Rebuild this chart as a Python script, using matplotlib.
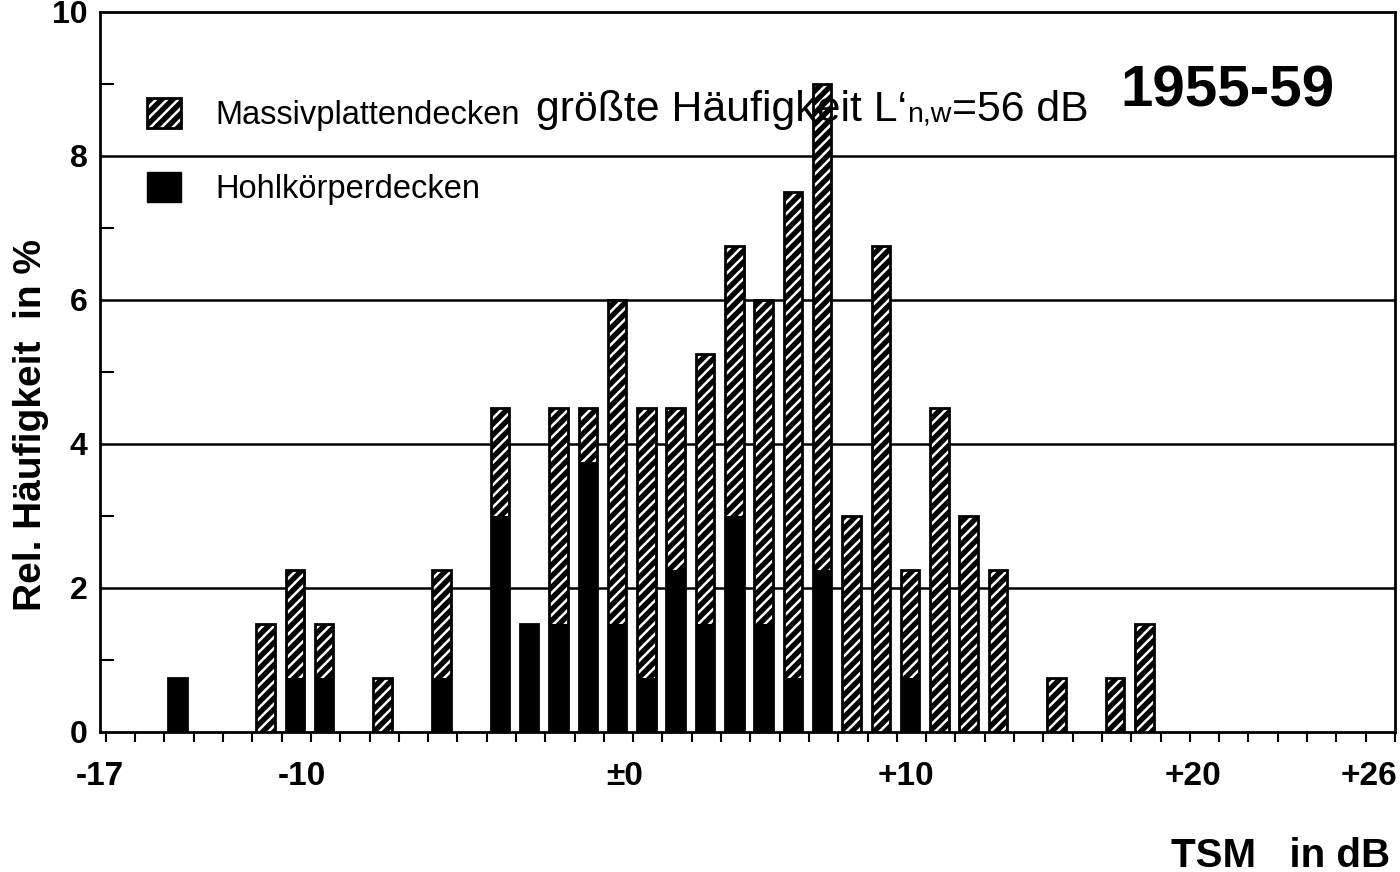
import numpy as np
import matplotlib.pyplot as plt
from matplotlib.patches import Patch
from matplotlib.legend_handler import HandlerTuple
from matplotlib.offsetbox import TextArea, HPacker, AnchoredOffsetbox

plt.rcParams['font.family'] = ['Liberation Sans', 'DejaVu Sans']
plt.rcParams['hatch.linewidth'] = 1.8

# TSM class (lower edge in dB) and relative frequency in %
tsm = [-15, -12, -11, -10, -8, -6, -4, -3, -2, -1, 0, 1, 2, 3, 4, 5, 6,
       7, 8, 9, 10, 11, 12, 13, 15, 17, 18]
hohl = [0.75, 0, 0.75, 0.75, 0, 0.75, 3.0, 1.5, 1.5, 3.75, 1.5, 0.75, 2.25,
        1.5, 3.0, 1.5, 0.75, 2.25, 0, 0, 0.75, 0, 0, 0, 0, 0, 0]
massiv = [0, 1.5, 1.5, 0.75, 0.75, 1.5, 1.5, 0, 3.0, 0.75, 4.5, 3.75, 2.25,
          3.75, 3.75, 4.5, 6.75, 6.75, 3.0, 6.75, 1.5, 4.5, 3.0, 2.25, 0.75,
          0.75, 1.5]

# x labels as printed on the original
xlabels = ['-17', '-10', '±0', '+10', '+20', '+26']
xlabel_pos = [-17.2, -10.3, 0.7, 10.3, 20.1, 26.1]

fig = plt.figure(figsize=(14, 8.72), dpi=100)
ax = fig.add_axes([0.0714, 0.1606, 0.925, 0.8257])

x = np.array(tsm) + 0.45
total = np.add(hohl, massiv)
w = 0.63
ax.bar(x, hohl, w, color='black', linewidth=0, zorder=3)
ax.bar(x, massiv, w, bottom=hohl, color='black', edgecolor='white',
       hatch='///', linewidth=0, zorder=3)
ax.bar(x, total, w, fill=False, edgecolor='black', linewidth=2, zorder=4)

for yy in [2, 4, 6, 8]:
    ax.axhline(yy, color='black', linewidth=1.8, zorder=1)

for s in ax.spines.values():
    s.set_linewidth(2)

ax.set_xlim(-17, 27)
ax.set_ylim(0, 10)
ax.set_xticks(np.arange(-17, 28), minor=True)
ax.set_xticks(xlabel_pos, xlabels)
ax.set_yticks([0, 2, 4, 6, 8, 10])
ax.set_yticks([1, 3, 5, 7, 9], minor=True)
ax.tick_params(axis='x', which='major', length=0, pad=21, labelsize=24)
ax.tick_params(axis='x', which='minor', length=7, width=1.5, direction='out')
ax.tick_params(axis='y', which='major', length=0, pad=9, labelsize=23)
ax.tick_params(axis='y', which='minor', length=10, width=1.5, direction='in')
for t in ax.get_xticklabels() + ax.get_yticklabels():
    t.set_fontweight('bold')

fig.text(0.022, 0.513, 'Rel. Häufigkeit  in %', rotation=90, ha='center',
         va='center', fontsize=28, fontweight='bold')
fig.text(0.993, 0.006, 'TSM   in dB', ha='right', va='baseline', fontsize=29,
         fontweight='bold')

ax.text(0.871, 0.89, '1955-59', transform=ax.transAxes, ha='center',
        va='center', fontsize=42, fontweight='bold', zorder=6)

# legend
h_massiv = (Patch(facecolor='black', edgecolor='white', hatch='///', linewidth=0),
            Patch(fill=False, edgecolor='black', linewidth=2))
h_hohl = Patch(facecolor='black', edgecolor='black')
ax.legend([h_massiv, h_hohl], ['Massivplattendecken', 'Hohlkörperdecken'],
          handler_map={tuple: HandlerTuple(ndivide=1, pad=0)},
          loc='upper left', bbox_to_anchor=(0.036, 0.881), frameon=False,
          fontsize=23.5, handlelength=1.05, handleheight=1.05,
          handletextpad=1.05, labelspacing=1.25, borderpad=0, borderaxespad=0)

# annotation with small n,w
p1 = TextArea('größte Häufigkeit L‘', textprops=dict(fontsize=30.8))
p2 = TextArea('n,w', textprops=dict(fontsize=20.5))
p3 = TextArea('=56 dB', textprops=dict(fontsize=30.8))
box = HPacker(children=[p1, p2, p3], align='baseline', pad=0, sep=0)
anch = AnchoredOffsetbox(loc='lower left', child=box, pad=0, frameon=False,
                         bbox_to_anchor=(0.337, 0.836),
                         bbox_transform=ax.transAxes, borderpad=0)
anch.set_zorder(6)
ax.add_artist(anch)

fig.savefig('out.png', dpi=100)
